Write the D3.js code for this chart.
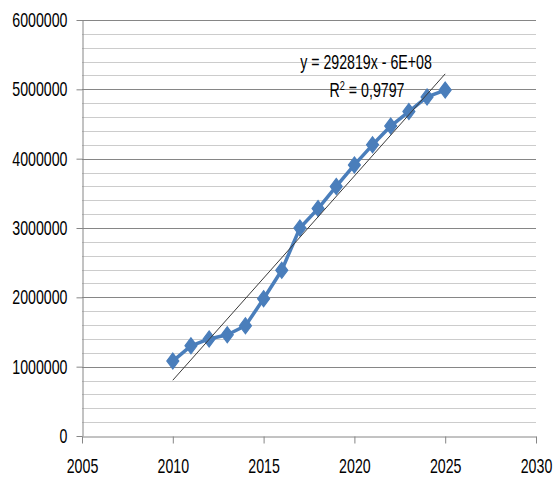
<!DOCTYPE html>
<html>
<head>
<meta charset="utf-8">
<script src="https://cdn.jsdelivr.net/npm/d3@7"></script>
<style>
  html, body { margin: 0; padding: 0; background: #fff; }
  svg { display: block; }
  text { font-family: "Liberation Sans", Arial, sans-serif; fill: #000; }
</style>
</head>
<body>
<svg id="chart" width="555" height="477"></svg>
<script>
const years = [2010, 2011, 2012, 2013, 2014, 2015, 2016, 2017, 2018, 2019, 2020, 2021, 2022, 2023, 2024, 2025];
const values = [1080000, 1300000, 1400000, 1460000, 1590000, 1980000, 2390000, 3000000, 3280000, 3600000, 3910000, 4200000, 4470000, 4680000, 4890000, 4990000];
const xTicks = [2005, 2010, 2015, 2020, 2025, 2030];
const yTicks = [0, 1000000, 2000000, 3000000, 4000000, 5000000, 6000000];
const minorStep = 200000;
const equationText = "y = 292819x - 6E+08";
const r2Label = "0,9797";

(function () {
const svg = d3.select("#chart");
const mL = 82, mR = 536, mT = 20, mB = 436;
const FS = 20, SX = 0.71;
const x = d3.scaleLinear().domain([2005, 2030]).range([mL, mR]);
const y = d3.scaleLinear().domain([0, 6000000]).range([mB, mT]);

// minor gridlines
const minor = d3.range(minorStep, 6000000 + 1, minorStep).filter(v => v % 1000000 !== 0);
svg.append("g").selectAll("line").data(minor).join("line")
  .attr("x1", mL).attr("x2", mR)
  .attr("y1", d => Math.round(y(d)) + 0.5).attr("y2", d => Math.round(y(d)) + 0.5)
  .attr("stroke", "#cccccc").attr("stroke-width", 1);

// major gridlines
svg.append("g").selectAll("line").data(yTicks.filter(v => v > 0)).join("line")
  .attr("x1", mL).attr("x2", mR)
  .attr("y1", d => Math.round(y(d)) + 0.5).attr("y2", d => Math.round(y(d)) + 0.5)
  .attr("stroke", "#868686").attr("stroke-width", 1);

function condense(sel) {
  sel.each(function () {
    const t = d3.select(this);
    const ox = +t.attr("x") || 0;
    t.attr("x", ox / SX).attr("transform", `scale(${SX},1)`);
  });
}

// y axis
const yAxis = d3.axisLeft(y).tickValues(yTicks).tickFormat(d3.format("d")).tickSize(6).tickPadding(9).tickSizeOuter(0);
const gy = svg.append("g").attr("transform", `translate(${mL + 0.5},0)`).call(yAxis);
gy.select(".domain").attr("stroke", "#868686");
gy.selectAll(".tick line").attr("stroke", "#868686");
gy.selectAll(".tick text").attr("font-size", FS).attr("font-family", "Liberation Sans, Arial, sans-serif").attr("fill", "#222").call(condense);

// x axis
const xAxis = d3.axisBottom(x).tickValues(xTicks).tickFormat(d3.format("d")).tickSize(7).tickPadding(15).tickSizeOuter(0);
const gx = svg.append("g").attr("transform", `translate(0,${mB + 0.5})`).call(xAxis);
gx.select(".domain").attr("stroke", "#868686");
gx.selectAll(".tick line").attr("stroke", "#868686");
gx.selectAll(".tick text").attr("font-size", FS).attr("font-family", "Liberation Sans, Arial, sans-serif").attr("fill", "#222").call(condense);

// data series
const pts = years.map((yr, i) => [yr, values[i]]);
svg.append("path").datum(pts)
  .attr("fill", "none").attr("stroke", "#4a7ebb").attr("stroke-width", 3.5)
  .attr("stroke-linejoin", "round")
  .attr("d", d3.line().x(d => x(d[0])).y(d => y(d[1])));

svg.append("g").selectAll("path").data(pts).join("path")
  .attr("transform", d => `translate(${x(d[0])},${y(d[1])})`)
  .attr("d", "M0,-8L6,0L0,8L-6,0Z")
  .attr("fill", "#4a7ebb").attr("stroke", "#4a7ebb").attr("stroke-width", 1.2);

// linear trendline (least squares)
const mx = d3.mean(years), my = d3.mean(values);
const sxy = d3.sum(years, (v, i) => (v - mx) * (values[i] - my));
const sxx = d3.sum(years, v => (v - mx) * (v - mx));
const slope = sxy / sxx, intercept = my - slope * mx;
const x0 = d3.min(years), x1 = d3.max(years);
svg.append("line")
  .attr("x1", x(x0)).attr("y1", y(slope * x0 + intercept))
  .attr("x2", x(x1)).attr("y2", y(slope * x1 + intercept))
  .attr("stroke", "#3a3a3a").attr("stroke-width", 1);

// equation labels
svg.append("text").attr("x", 366 / SX).attr("y", 69).attr("text-anchor", "middle")
  .attr("transform", `scale(${SX},1)`)
  .attr("font-size", FS).attr("fill", "#222").text(equationText);
const r2 = svg.append("text").attr("x", 367 / SX).attr("y", 97).attr("text-anchor", "middle")
  .attr("transform", `scale(${SX},1)`).attr("font-size", FS).attr("fill", "#222");
r2.append("tspan").text("R");
r2.append("tspan").attr("dy", -7).attr("font-size", 13).text("2");
r2.append("tspan").attr("dy", 7).text(" = " + r2Label);
})();
</script>
</body>
</html>
